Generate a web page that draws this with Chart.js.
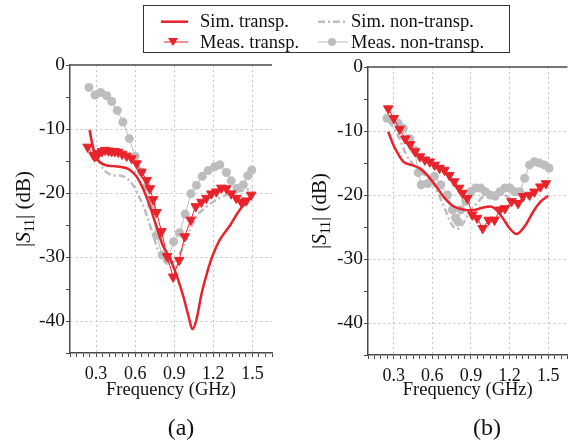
<!DOCTYPE html>
<html>
<head>
<meta charset="utf-8">
<script src="https://cdn.jsdelivr.net/npm/chart.js@4.4.1/dist/chart.umd.min.js"></script>
<style>
  html, body { margin: 0; padding: 0; background: #fff; }
  #wrap { position: relative; width: 574px; height: 441px; overflow: hidden; font-family: 'Liberation Serif', 'Times New Roman', serif; color: #111; }
  .panel { position: absolute; top: 0; }
  #legend { position: absolute; left: 143px; top: 5px; width: 365px; height: 46px; border: 1px solid #333; }
  #legend svg { position: absolute; left: 0; top: 0; }
  #legend span { position: absolute; font-size: 18.5px; line-height: 20px; white-space: nowrap; }
  .tag { position: absolute; top: 413px; font-size: 24px; line-height: 28px; width: 40px; text-align: center; }
</style>
</head>
<body>
<div id="wrap">
  <canvas id="chartA" class="panel" style="left:0" width="287" height="441"></canvas>
  <canvas id="chartB" class="panel" style="left:290px" width="284" height="441"></canvas>

  <div id="legend">
    <svg width="365" height="46">
      <line x1="17" y1="15.7" x2="44" y2="15.7" stroke="#e8232b" stroke-width="2.5"/>
      <line x1="20" y1="36" x2="44" y2="36" stroke="#e8232b" stroke-width="1"/>
      <polygon points="24,32 34,32 29,40" fill="#e8232b"/>
      <line x1="174" y1="15.7" x2="204" y2="15.7" stroke="#bdbdbd" stroke-width="2.5" stroke-dasharray="7,3,2,3"/>
      <line x1="174" y1="36" x2="204" y2="36" stroke="#bdbdbd" stroke-width="1"/>
      <circle cx="188" cy="36" r="4" fill="#bdbdbd"/>
    </svg>
    <span style="left:56px;top:5px">Sim. transp.</span>
    <span style="left:207px;top:5px">Sim. non-transp.</span>
    <span style="left:56px;top:26px">Meas. transp.</span>
    <span style="left:207px;top:26px">Meas. non-transp.</span>
  </div>

  <div class="tag" style="left:161px">(a)</div>
  <div class="tag" style="left:467px">(b)</div>
</div>

<script>
// ---- (a) ----
const aSimTFreq = [0.25, 0.29, 0.33, 0.38, 0.43, 0.48, 0.53, 0.56, 0.61, 0.66, 0.71, 0.76, 0.81, 0.87, 0.92, 0.97, 1.01, 1.04, 1.07, 1.11, 1.15, 1.19, 1.25, 1.33, 1.40, 1.48, 1.50];
const aSimTDb   = [-10.2, -14.1, -15.2, -15.7, -15.8, -15.9, -16.1, -16.4, -17.4, -19.3, -21.9, -25.0, -28.1, -30.3, -33.0, -36.2, -39.3, -41.3, -39.8, -35.7, -32.6, -30.0, -27.3, -25.0, -22.7, -20.8, -20.3];

const aSimNFreq = [0.25, 0.29, 0.33, 0.36, 0.43, 0.51, 0.585, 0.636, 0.688, 0.738, 0.79, 0.84, 0.89, 0.94, 0.97, 1.02, 1.07, 1.15, 1.22, 1.30, 1.38, 1.45, 1.50];
const aSimNDb   = [-10.0, -13.5, -15.3, -16.4, -17.2, -17.4, -18.8, -20.8, -23.4, -26.6, -29.7, -30.8, -30.8, -29.5, -28.4, -25.8, -23.7, -22.1, -21.1, -20.3, -19.8, -19.5, -19.2];

const aMeasTFreq = [0.235, 0.28, 0.29, 0.32, 0.345, 0.37, 0.395, 0.42, 0.445, 0.47, 0.50, 0.535, 0.573, 0.611, 0.649, 0.688, 0.713, 0.738, 0.764, 0.802, 0.845, 0.891, 0.937, 0.98, 1.026, 1.065, 1.108, 1.146, 1.185, 1.223, 1.261, 1.30, 1.337, 1.376, 1.414, 1.452, 1.49];
const aMeasTDb   = [-12.8, -14.1, -14.3, -13.8, -13.5, -13.3, -13.4, -13.5, -13.5, -13.6, -13.9, -14.2, -14.6, -15.4, -16.7, -18.0, -19.3, -21.0, -23.0, -26.0, -29.9, -33.1, -30.5, -26.8, -24.2, -22.1, -21.4, -20.8, -20.1, -19.8, -19.2, -19.3, -20.1, -20.8, -21.4, -21.2, -20.3];

const aMeasNFreq = [0.245, 0.292, 0.336, 0.382, 0.42, 0.463, 0.506, 0.555, 0.6, 0.649, 0.688, 0.726, 0.764, 0.808, 0.85, 0.895, 0.94, 0.984, 1.028, 1.07, 1.115, 1.16, 1.21, 1.25, 1.30, 1.337, 1.382, 1.43, 1.465, 1.495];
const aMeasNDb   = [-3.5, -4.7, -4.3, -4.8, -5.7, -7.1, -8.9, -11.5, -14.3, -16.7, -19.0, -21.9, -26.6, -29.7, -30.5, -27.6, -26.2, -23.3, -20.1, -18.8, -17.4, -16.5, -15.9, -15.6, -16.8, -18.1, -19.3, -18.7, -17.3, -16.4];

// ---- (b) ----
const bSimTFreq = [0.257, 0.30, 0.323, 0.374, 0.437, 0.50, 0.565, 0.628, 0.692, 0.768, 0.844, 0.91, 0.986, 1.05, 1.10, 1.15, 1.20, 1.253, 1.317, 1.393, 1.443, 1.50];
const bSimTDb   = [-10.1, -12.3, -13.2, -14.8, -15.3, -15.8, -17.0, -18.6, -20.4, -21.8, -22.3, -22.4, -22.0, -21.8, -22.4, -23.7, -25.2, -26.1, -24.9, -22.3, -21.0, -20.1];

const bSimNFreq = [0.26, 0.30, 0.34, 0.40, 0.45, 0.49, 0.55, 0.60, 0.64, 0.70, 0.75, 0.79, 0.83, 0.885, 0.936, 1.01, 1.09, 1.164, 1.24, 1.317, 1.393, 1.494];
const bSimNDb   = [-8.5, -9.5, -11.0, -13.8, -15.2, -16.2, -17.0, -18.2, -19.5, -22.3, -24.6, -25.3, -24.7, -22.8, -21.5, -20.0, -19.6, -20.0, -21.0, -20.8, -19.5, -18.3];

const bMeasTFreq = [0.257, 0.30, 0.346, 0.389, 0.427, 0.465, 0.504, 0.542, 0.58, 0.618, 0.656, 0.694, 0.732, 0.77, 0.808, 0.834, 0.872, 0.91, 0.948, 0.991, 1.037, 1.083, 1.126, 1.164, 1.215, 1.266, 1.304, 1.355, 1.393, 1.439, 1.482];
const bMeasTDb   = [-6.5, -8.0, -9.7, -11.2, -12.1, -13.2, -14.0, -14.5, -14.8, -15.3, -15.8, -16.1, -16.9, -17.9, -18.9, -19.7, -20.5, -23.1, -23.6, -25.2, -23.9, -23.9, -22.3, -22.1, -21.0, -21.3, -20.2, -20.0, -19.5, -18.7, -18.2];

const bMeasNFreq = [0.247, 0.288, 0.336, 0.374, 0.425, 0.463, 0.49, 0.514, 0.565, 0.616, 0.666, 0.717, 0.755, 0.78, 0.80, 0.821, 0.86, 0.898, 0.936, 0.975, 1.012, 1.05, 1.088, 1.126, 1.164, 1.202, 1.24, 1.279, 1.317, 1.355, 1.393, 1.431, 1.469, 1.507];
const bMeasNDb   = [-8.0, -8.3, -8.8, -9.6, -11.2, -13.0, -16.5, -18.4, -18.2, -17.1, -18.4, -20.0, -22.3, -23.6, -24.2, -22.3, -21.0, -19.5, -18.9, -18.9, -19.5, -20.0, -20.2, -19.5, -18.9, -18.9, -19.5, -19.5, -17.4, -15.3, -14.8, -15.0, -15.3, -15.8];

const xTickLabels = ['0.3', '0.6', '0.9', '1.2', '1.5'];
const yTickLabels = ['0', '-10', '-20', '-30', '-40'];

const RED = '#e8232b';
const GRAY = '#bdbdbd';
const AXIS = '#4a4a4a';
const GRID = '#c4c4c4';
const SERIF = "'Liberation Serif', 'Times New Roman', serif";

function pts(fs, ds) {
  return fs.map((f, i) => ({ x: f, y: ds[i] }));
}

function xLabel(v) {
  const k = Math.round(v * 100);
  if (k <= 0 || k % 30 !== 0) return '';
  const s = v.toFixed(1);
  return xTickLabels.includes(s) ? s : '';
}

function yLabel(v) {
  const s = String(v);
  return yTickLabels.includes(s) ? s : '';
}

// top frame line + |S11| (dB) title with italic S and subscript
const framePlugin = {
  id: 'frame',
  afterDraw(chart, args, opts) {
    const ctx = chart.ctx;
    const a = chart.chartArea;
    ctx.save();
    ctx.strokeStyle = AXIS;
    ctx.lineWidth = 1.5;
    ctx.beginPath();
    ctx.moveTo(a.left, a.top);
    ctx.lineTo(a.right, a.top);
    ctx.stroke();

    const parts = [
      { t: '|', f: '21px ' + SERIF, dy: 0 },
      { t: 'S', f: 'italic 21px ' + SERIF, dy: 0 },
      { t: '11', f: '14px ' + SERIF, dy: 4 },
      { t: '| (dB)', f: '21px ' + SERIF, dy: 0 }
    ];
    let total = 0;
    parts.forEach(p => { ctx.font = p.f; p.w = ctx.measureText(p.t).width; total += p.w; });
    ctx.translate(opts.x, (a.top + a.bottom) / 2);
    ctx.rotate(-Math.PI / 2);
    ctx.fillStyle = '#111';
    ctx.textBaseline = 'alphabetic';
    let x = -total / 2;
    parts.forEach(p => {
      ctx.font = p.f;
      ctx.fillText(p.t, x, 7 + p.dy);
      x += p.w;
    });
    ctx.restore();
  }
};

function makeChart(id, d, box) {
  return new Chart(document.getElementById(id), {
    type: 'line',
    data: {
      datasets: [
        {
          label: 'Meas. transp.',
          data: pts(d.measTF, d.measTD),
          borderColor: RED,
          borderWidth: 1,
          pointStyle: 'triangle',
          pointRotation: 180,
          pointRadius: 5.5,
          pointBackgroundColor: RED,
          pointBorderColor: RED,
          pointBorderWidth: 1
        },
        {
          label: 'Sim. transp.',
          data: pts(d.simTF, d.simTD),
          borderColor: RED,
          borderWidth: 2.5,
          pointRadius: 0,
          cubicInterpolationMode: 'monotone'
        },
        {
          label: 'Meas. non-transp.',
          data: pts(d.measNF, d.measND),
          borderColor: GRAY,
          borderWidth: 1,
          pointStyle: 'circle',
          pointRadius: 4.5,
          pointBackgroundColor: GRAY,
          pointBorderWidth: 0
        },
        {
          label: 'Sim. non-transp.',
          data: pts(d.simNF, d.simND),
          borderColor: GRAY,
          borderWidth: 2.5,
          borderDash: [7, 3, 2, 3],
          pointRadius: 0,
          cubicInterpolationMode: 'monotone'
        }
      ]
    },
    options: {
      responsive: false,
      animation: false,
      events: [],
      layout: { padding: { left: 0, top: box.top, right: box.right, bottom: 0 } },
      scales: {
        x: {
          type: 'linear',
          min: 0.1,
          max: 1.65,
          afterFit: s => { s.height = box.xh; },
          ticks: {
            stepSize: 0.05,
            autoSkip: false,
            maxRotation: 0,
            padding: 6,
            color: '#111',
            font: { family: SERIF, size: 18 },
            callback: v => xLabel(v)
          },
          grid: {
            color: c => (c.tick && xLabel(c.tick.value)) ? GRID : 'rgba(0,0,0,0)',
            tickColor: AXIS,
            tickLength: 4,
            tickWidth: 1
          },
          border: { color: AXIS, width: 1.5, dash: [2, 3] },
          title: {
            display: true,
            text: 'Frequency (GHz)',
            color: '#111',
            font: { family: SERIF, size: 18.5 },
            padding: { top: 0, bottom: 40 }
          }
        },
        y: {
          min: -45,
          max: 0,
          afterFit: s => { s.width = box.yw; },
          ticks: {
            stepSize: 5,
            autoSkip: false,
            padding: 1,
            color: '#111',
            font: { family: SERIF, size: 19.5 },
            callback: v => yLabel(v)
          },
          grid: {
            color: c => (c.tick && c.tick.value !== 0 && yLabel(c.tick.value)) ? GRID : 'rgba(0,0,0,0)',
            tickColor: AXIS,
            tickLength: 4,
            tickWidth: 1
          },
          border: { color: AXIS, width: 1.5, dash: [2, 3] }
        }
      },
      plugins: {
        legend: { display: false },
        tooltip: { enabled: false },
        frame: { x: box.titleX }
      }
    },
    plugins: [framePlugin]
  });
}

makeChart('chartA', {
  simTF: aSimTFreq, simTD: aSimTDb,
  simNF: aSimNFreq, simND: aSimNDb,
  measTF: aMeasTFreq, measTD: aMeasTDb,
  measNF: aMeasNFreq, measND: aMeasNDb
}, { top: 65, right: 15, yw: 70, xh: 88, titleX: 23 });

makeChart('chartB', {
  simTF: bSimTFreq, simTD: bSimTDb,
  simNF: bSimNFreq, simND: bSimNDb,
  measTF: bMeasTFreq, measTD: bMeasTDb,
  measNF: bMeasNFreq, measND: bMeasNDb
}, { top: 67, right: 3, yw: 78, xh: 86, titleX: 29 });
</script>
</body>
</html>
